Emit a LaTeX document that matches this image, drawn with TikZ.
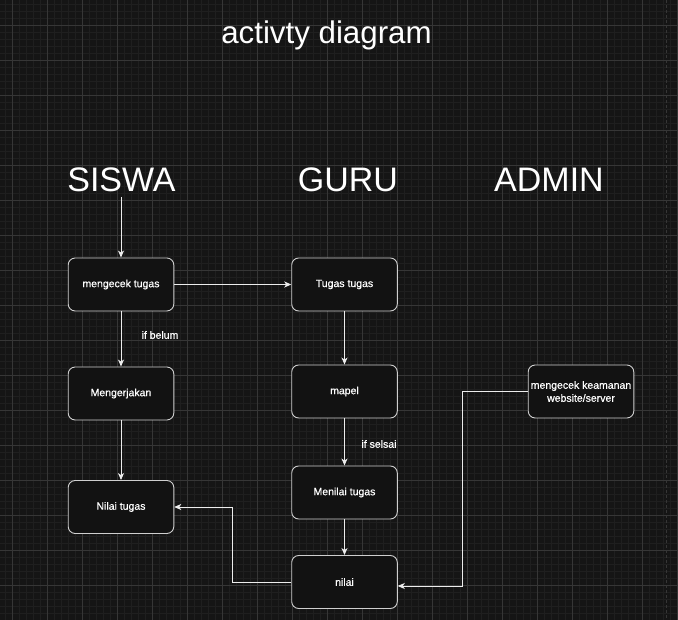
\documentclass[tikz,border=0pt]{standalone}
\usepackage{fontspec}
\setmainfont{Liberation Sans}
\newfontfamily\semibold{Liberation Sans}[FakeBold=0.6]
\usetikzlibrary{arrows.meta}
\definecolor{bgc}{HTML}{151515}
\definecolor{minorc}{HTML}{1F1F1F}
\definecolor{majorc}{HTML}{363636}
\definecolor{boxfill}{HTML}{121212}
\definecolor{boxline}{HTML}{CFCFCF}
\definecolor{linec}{HTML}{EDEDED}
\tikzset{
  minorgrid/.style={draw=minorc, line width=0.8pt},
  majorgrid/.style={draw=majorc, line width=0.9pt},
  actbox/.style={draw=boxline, fill=boxfill, rounded corners=7pt, line width=0.9pt,
    minimum width=105.6pt, minimum height=53pt, text=white, align=center,
    font=\semibold\fontsize{10.5}{13}\selectfont, inner sep=1pt},
  lanehead/.style={text=white, font=\fontsize{34}{40}\selectfont, inner sep=0pt},
  edgelabel/.style={text=white, font=\semibold\fontsize{10.5}{13}\selectfont, inner sep=0pt},
  arr/.style={draw=linec, line width=0.9pt, -{Stealth[length=7pt,width=6pt,inset=2pt]}},
}
\begin{document}
\begin{tikzpicture}[x=1pt,y=-1pt]
\useasboundingbox (0,0) rectangle (678,620);
\fill[bgc] (0,0) rectangle (678,620);
% grid
\foreach \i in {0,...,96} { \draw[minorgrid] ({5.3+7*\i},0) -- ++(0,620); }
\foreach \i in {0,...,88} { \draw[minorgrid] (0,{4+7*\i}) -- ++(678,0); }
\foreach \i in {0,...,19} { \draw[majorgrid] ({12.3+35*\i},0) -- ++(0,620); }
\foreach \i in {0,...,17} { \draw[majorgrid] (0,{25+35*\i}) -- ++(678,0); }
\draw[majorc, line width=1.2pt, dash pattern=on 3pt off 2pt] (666.7,0) -- (666.7,620);

% texts
\node[text=white, font=\fontsize{31.3}{36}\selectfont, inner sep=0pt] (title) at (326.5,35) {activty diagram};
\node[lanehead] (siswa) at (121.5,180) {SISWA};
\node[lanehead] (guru) at (348,180) {GURU};
\node[lanehead] (admin) at (549,180) {ADMIN};

% boxes
\node[actbox] (cek) at (121,284.5) {mengecek tugas};
\node[actbox] (tgs) at (344.5,284.5) {Tugas tugas};
\node[actbox] (kerja) at (121,393.5) {Mengerjakan};
\node[actbox] (mapel) at (344.5,391.5) {mapel};
\node[actbox] (aman) at (581,391.5) {mengecek keamanan\\website/server};
\node[actbox] (nt) at (121,507) {Nilai tugas};
\node[actbox] (menilai) at (344.5,492.5) {Menilai tugas};
\node[actbox] (nilai) at (344.5,582) {nilai};

% edges
\coordinate (start) at (121,197);
\draw[arr] (start) -- (cek);
\draw[arr] (cek) -- (tgs);
\draw[arr] (cek) -- (kerja);
\draw[arr] (kerja) -- (nt);
\draw[arr] (tgs) -- (mapel);
\draw[arr] (mapel) -- (menilai);
\draw[arr] (menilai) -- (nilai);
\draw[arr] (nilai.west) -- ++(-59,0) |- (nt.east);
\draw[arr] (aman.west) -- ++(-65.6,0) |- ([yshift=-4pt]nilai.east);

\node[edgelabel] (lb1) at (160,335) {if belum};
\node[edgelabel] (lb2) at (379,444) {if selsai};
\end{tikzpicture}
\end{document}
